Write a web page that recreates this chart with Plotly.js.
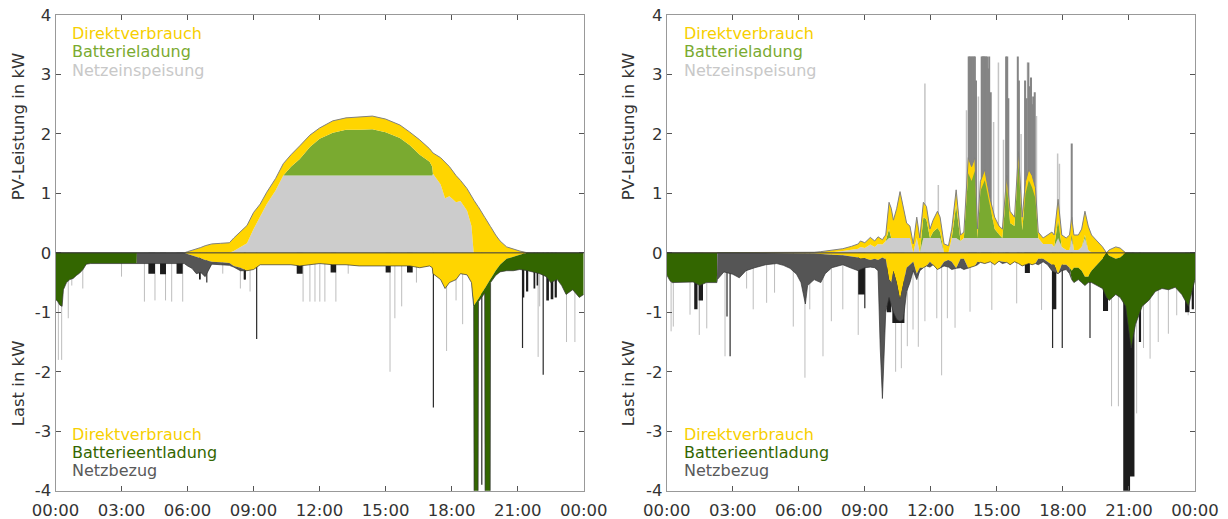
<!DOCTYPE html>
<html>
<head>
<meta charset="utf-8">
<script src="https://cdn.plot.ly/plotly-3.0.1.min.js"></script>
<style>html,body{margin:0;padding:0;background:#fff;}#chart{width:1228px;height:519px;}</style>
</head>
<body>
<div id="chart"></div>
<script>
// ---------- shared labels ----------
const hourTicks = [0, 3, 6, 9, 12, 15, 18, 21, 24];
const hourLabels = ['00:00', '03:00', '06:00', '09:00', '12:00', '15:00', '18:00', '21:00', '00:00'];
const kwTicks = [-4, -3, -2, -1, 0, 1, 2, 3, 4];
const kwLabels = ['-4', '-3', '-2', '-1', '0', '1', '2', '3', '4'];
const pvLegend = ['Direktverbrauch', 'Batterieladung', 'Netzeinspeisung'];
const loadLegend = ['Direktverbrauch', 'Batterieentladung', 'Netzbezug'];

// ---------- day 1 (left) : time in hours, power in kW ----------
const t1 = [0,0.1,0.2,0.3,0.36,0.5,0.65,0.8,0.95,1.1,1.25,1.4,1.6,3.69,3.7,5.85,6,6.2,6.4,6.6,6.8,6.95,7.1,7.5,7.9,8.1,8.4,8.7,9,9.3,9.6,10,10.35,10.7,11.1,11.56,12,12.6,13.2,13.8,14.4,15,15.65,16.1,16.55,17,17.12,17.15,17.5,17.7,17.9,18.2,18.4,18.7,18.9,19,19.02,19.2,19.22,19.5,19.52,19.75,19.77,20,20.2,20.5,20.8,21.1,21.45,21.7,22,22.3,22.5,22.8,23,23.2,23.5,23.8,24];
const direkt1 = [0,0,0,0,0,0,0,0,0,0,0,0,0,0,0,0,0.02,0.04,0.07,0.09,0.12,0.14,0.15,0.16,0.17,0.22,0.25,0.30,0.28,0.20,0.20,0.20,0.20,0.20,0.22,0.20,0.18,0.20,0.20,0.22,0.22,0.22,0.22,0.22,0.25,0.22,0.25,0.35,0.45,0.60,0.50,0.45,0.35,0.37,0.50,0.88,0.88,0.78,0.77,0.60,0.59,0.45,0.44,0.30,0.20,0.10,0.06,0.03,0,0,0,0,0,0,0,0,0,0,0];
const ladung1 = [0,0,0,0,0,0,0,0,0,0,0,0,0,0,0,0,0,0,0,0,0,0,0,0,0,0,0,0,0,0,0,0,0,0.15,0.28,0.48,0.62,0.72,0.77,0.77,0.78,0.73,0.63,0.51,0.35,0.23,0.15,0,0,0,0,0,0,0,0,0,0,0,0,0,0,0,0,0,0,0,0,0,0,0,0,0,0,0,0,0,0,0,0];
const einspeis1 = [0,0,0,0,0,0,0,0,0,0,0,0,0,0,0,0,0,0,0,0,0,0,0,0,0,0.03,0.10,0.16,0.40,0.62,0.82,1.05,1.30,1.30,1.30,1.30,1.30,1.30,1.30,1.30,1.30,1.30,1.30,1.30,1.30,1.30,1.30,1.33,1.15,0.92,0.95,0.85,0.87,0.71,0.45,0,0,0,0,0,0,0,0,0,0,0,0,0,0,0,0,0,0,0,0,0,0,0,0];
const entladung1 = [0.78,0.82,0.88,0.90,0.62,0.50,0.45,0.43,0.38,0.34,0.28,0.19,0.18,0.18,0,0,0,0,0,0,0,0,0,0,0,0,0,0,0,0,0,0,0,0,0,0,0,0,0,0,0,0,0,0,0,0,0,0,0,0,0,0,0,0,0,0.02,3.42,3.52,0.05,0.08,3.71,3.85,0.06,0.08,0.12,0.20,0.24,0.25,0.30,0.32,0.35,0.40,0.50,0.45,0.55,0.70,0.62,0.75,0.70];
const bezug1 = [0,0,0,0,0,0,0,0,0,0,0,0,0,0,0.18,0.18,0.20,0.22,0.28,0.24,0.28,0.16,0.04,0.04,0.04,0.02,0.05,0,0,0,0,0,0,0,0,0,0,0,0,0,0,0,0,0,0,0,0,0,0,0,0,0,0,0,0,0,0,0,0,0,0,0,0,0,0,0,0,0,0,0,0,0,0,0,0,0,0,0,0];
// short load pulses [start h, end h, depth kW]
const blocks1 = [[4.22,4.52,0.35],[4.75,5.02,0.36],[5.50,5.78,0.35],[6.52,6.60,0.45],[6.85,6.90,0.50],[8.55,8.65,0.45],[10.96,11.23,0.35],[12.50,12.75,0.33],[15.00,15.23,0.33],[15.97,16.23,0.33],[21.22,21.30,0.75],[21.38,21.48,0.65],[21.72,21.80,0.60],[21.86,21.93,0.55],[22.30,22.42,0.80],[22.50,22.62,0.78],[22.68,22.78,0.75]];
// one-sample load spikes [h, kW]
const loadSpikesLight1 = [[0.13,1.8],[0.28,1.8],[0.58,1.1],[0.74,0.55],[1.24,0.6],[3.0,0.4],[4.04,0.82],[4.52,0.8],[5.0,0.8],[5.28,0.82],[5.78,0.82],[7.6,0.35],[8.4,0.6],[8.84,0.65],[11.25,0.82],[11.56,0.82],[11.79,0.82],[12.01,0.82],[12.24,0.82],[12.74,0.82],[13.3,0.35],[15.2,2.0],[15.42,1.1],[15.73,0.9],[16.4,0.5],[17.77,1.65],[18.2,0.8],[18.5,1.2],[21.93,1.75],[22.0,0.9],[23.22,1.5],[23.6,1.5]];
const loadSpikesDark1 = [[8.6,0.45],[9.14,1.45],[17.17,2.6],[19.37,3.9],[21.22,1.6],[22.16,2.05]];
const pvSpikesLight1 = [];
const pvSpikesDark1 = [];

// ---------- day 2 (right) ----------
const t2 = [0,0.15,0.25,1.2,1.5,1.8,2.28,2.3,2.6,3,3.3,3.6,4,4.5,5,5.3,5.6,5.9,6.1,6.3,6.4,6.7,7,7.2,7.5,8,8.4,8.7,8.8,9,9.25,9.45,9.6,9.7,9.8,9.9,9.95,10.1,10.2,10.3,10.45,10.6,10.75,10.9,11.05,11.2,11.36,11.5,11.66,11.8,11.96,12.1,12.3,12.42,12.6,12.8,12.95,13.15,13.35,13.5,13.7,13.85,14,14.12,14.25,14.45,14.7,14.9,15.1,15.25,15.45,15.6,15.8,15.98,16.15,16.3,16.45,16.6,16.75,16.88,17.1,17.3,17.5,17.6,17.78,17.95,18.15,18.3,18.4,18.5,18.7,18.85,19,19.15,19.3,19.55,19.8,19.98,20.1,20.4,20.6,20.85,21.1,21.3,21.6,21.9,22.2,22.5,22.8,23.1,23.4,23.7,24];
const direkt2 = [0,0,0,0,0,0,0,0,0,0, 0,0,0,0,0,0,0,0,0,0, 0,0.01,0.02,0.02,0.03,0.04,0.06,0.08,0.10,0.09, 0.12,0.10,0.12,0.10,0.08,0.10,0.10,0.45,0.50,0.30, 0.50,0.78,0.50,0.25,0.20,0.15,0.35,0.25,0.25,0.22, 0.15,0.20,0.28,0.25,0.15,0.12,0.15,0.26,0.10,0.10, 0.26,0.24,0.22,0.15,0.16,0.18,0.15,0.20,0.14,0.15, 0.16,0.20,0.15,0.18,0.22,0.20,0.18,0.20,0.18,0.10, 0.10,0.15,0.20,0.20,0.35,0.20,0.20,0.25,0.30,0.25, 0.25,0.30,0.40,0.40,0.30,0.20,0.10,0,0.05,0.10, 0.08,0,0,0,0,0,0,0,0,0, 0,0,0];
const ladung2 = [0,0,0,0,0,0,0,0,0,0, 0,0,0,0,0,0,0,0,0,0, 0,0,0,0,0,0,0,0,0,0, 0,0,0,0,0,0,0,0.15,0,0, 0,0,0,0,0,0,0,0,0.35,0.31, 0,0.10,0.17,0.10,0,0,0,0.55,0,0, 1.09,0.96,1.13,0,0.79,0.97,0.50,0.15,0.06,0, 0.89,0.25,0.20,1.27,0.13,0.75,0.97,0.85,0.67,0, 0,0,0,0,0.30,0,0,0,0.05,0, 0,0,0.05,0,0,0,0,0,0,0, 0,0,0,0,0,0,0,0,0,0, 0,0,0];
const einspeis2 = [0,0,0,0,0,0,0,0,0,0, 0,0,0,0,0,0,0,0,0,0, 0,0,0,0.01,0.01,0.03,0.05,0.07,0.10,0.08, 0.14,0.10,0.15,0.14,0.14,0.18,0.20,0.25,0.25,0.25, 0.25,0.25,0.25,0.25,0.25,0,0.25,0,0.25,0.25, 0.25,0.25,0.25,0.25,0,0,0.25,0.25,0.20,0.25, 0.25,0.25,0.25,0.25,0.25,0.25,0.25,0.25,0.25,0.25, 0.25,0.25,0.25,0.25,0.25,0.25,0.25,0.25,0.25,0.25, 0.15,0.15,0.15,0.10,0.25,0.10,0.05,0.05,0.25,0.05, 0.05,0.10,0.25,0.05,0,0,0,0,0,0, 0,0,0,0,0,0,0,0,0,0, 0,0,0];
const entladung2 = [0.37,0.47,0.50,0.49,0.55,0.50,0.50,0,0,0, 0,0,0,0,0,0,0,0,0,0, 0,0,0,0,0,0,0,0,0,0, 0,0,0,0,0,0,0,0,0,0, 0,0,0,0,0,0,0,0,0,0, 0,0,0,0,0,0,0,0,0,0, 0,0,0,0,0,0,0,0,0,0, 0,0,0,0,0,0,0,0,0,0, 0,0,0,0,0,0,0,0,0.15,0.25, 0.20,0.20,0.15,0.10,0.20,0.35,0.50,0.75,0.75,0.60, 0.67,0.90,1.60,1.20,0.90,0.80,0.65,0.60,0.62,0.58, 0.70,0.90,0.45];
const bezug2 = [0,0,0,0,0,0,0,0.45,0.32,0.36, 0.42,0.30,0.25,0.20,0.18,0.21,0.26,0.36,0.50,0.86, 0.55,0.44,0.48,0.33,0.22,0.16,0.20,0.22,0.18,0.16, 0.12,0.15,0.18,1.50,2.37,1.40,0.90,0.30,0.40,0.70, 0.62,0.37,0.62,0.40,0.30,0.15,0.10,0.05,0,0, 0.09,0,0,0,0.07,0.12,0.13,0,0.15,0.18, 0,0,0,0.05,0,0,0,0,0,0.03, 0,0,0,0,0,0,0,0,0,0.10, 0.05,0.05,0.10,0.12,0,0.10,0.08,0.10,0,0, 0,0,0,0,0,0,0,0,0,0, 0,0,0,0,0,0,0,0,0,0, 0,0,0];
const blocks2 = [[1.25,1.40,0.95],[1.45,1.65,0.80],[8.70,9.00,0.70],[10.00,10.20,1.00],[10.25,10.80,1.18],[16.27,16.50,0.34],[17.50,17.70,0.95],[19.82,20.05,0.98],[20.74,21.05,4.30],[21.05,21.25,3.76],[21.45,21.55,1.50],[23.55,23.75,1.00],[23.85,23.95,0.95]];
const loadSpikesLight2 = [[0.2,1.32],[0.3,1.24],[1.06,1.04],[1.48,1.38],[1.82,1.27],[2.65,1.74],[3.63,0.6],[3.93,0.95],[4.54,0.84],[4.9,0.67],[5.75,1.24],[6.28,2.1],[6.5,0.95],[7.1,1.74],[7.48,1.15],[8.0,0.95],[8.7,1.38],[10.4,2.0],[10.66,1.94],[10.93,1.57],[11.19,1.29],[11.43,1.58],[11.73,1.15],[12.27,1.1],[12.49,2.06],[12.75,1.1],[13.1,1.26],[13.78,0.99],[14.77,0.96],[15.9,0.85],[17.03,0.96],[20.21,2.58],[20.52,2.58],[21.35,2.7],[21.66,1.6],[21.96,1.78],[22.33,1.5],[22.79,1.36],[23.17,1.05],[23.69,1.05]];
const loadSpikesDark2 = [[2.74,1.07],[2.88,1.74],[9.0,0.93],[17.53,1.6],[17.97,1.6],[19.23,1.43],[21.17,3.7]];
const pvSpikesLight2 = [[11.73,2.85],[12.34,1.14],[13.62,2.4],[14.16,2.63],[14.85,2.2],[15.07,3.2],[15.3,1.9],[16.1,2.0],[16.39,3.2],[16.8,2.3],[17.76,1.67],[17.84,1.5]];
const pvSpikesDark2 = [[13.72,3.3],[13.76,3.3],[13.8,3.3],[13.86,3.3],[13.9,3.3],[13.96,3.3],[14.0,3.3],[14.05,2.9],[14.31,3.3],[14.35,3.3],[14.38,3.3],[14.42,3.3],[14.45,3.3],[14.5,3.3],[14.55,3.3],[14.6,3.1],[14.65,3.3],[14.72,2.7],[15.42,3.3],[15.47,3.3],[15.52,2.6],[15.95,3.3],[16.0,2.9],[16.28,2.9],[16.35,2.6],[16.43,3.2],[16.5,2.8],[16.55,2.95],[16.6,2.5],[16.65,2.63],[16.72,2.7],[18.4,1.84]];

// ---------- colours ----------
const C = {
  direkt: '#FFD500', ladung: '#7AAA30', einspeis: '#CCCCCC',
  entladung: '#336600', bezug: '#555555', pulse: '#1C1C1C',
  pvLine: '#808080', loadLine: '#333333'
};
const FONT = 'DejaVu Sans, Verdana, sans-serif';

function add(a, b) { return a.map((v, i) => v + b[i]); }
function neg(a) { return a.map(v => -v); }

function spikes(list, sign, color, width, xa, ya) {
  const x = [], y = [];
  list.forEach(([t, v]) => { x.push(t, t, null); y.push(0, sign * v, null); });
  return { type: 'scatter', mode: 'lines', x, y, xaxis: xa, yaxis: ya, line: { color, width }, hoverinfo: 'skip' };
}
function pulses(list, xa, ya) {
  const x = [], y = [];
  list.forEach(([s, e, d]) => { x.push(s, e, e, s, s, null); y.push(0, 0, -d, -d, 0, null); });
  return { type: 'scatter', mode: 'lines', x, y, xaxis: xa, yaxis: ya, fill: 'toself', fillcolor: C.pulse, line: { width: 0, color: C.pulse }, hoverinfo: 'skip' };
}
function area(t, y, fill, color, xa, ya, lineColor, lineWidth) {
  return { type: 'scatter', mode: 'lines', x: t, y, xaxis: xa, yaxis: ya, fill, fillcolor: color,
    line: { width: lineWidth || 0, color: lineColor || color }, hoverinfo: 'skip' };
}

function panel(t, d, bl, ne, be, nb, blocks, lsL, lsD, psL, psD, xa, ya) {
  const up1 = ne, up2 = add(ne, bl), up3 = add(up2, d);
  const lo1 = neg(d), lo2 = neg(add(d, be)), lo3 = neg(add(add(d, be), nb));
  return [
    spikes(psL, 1, '#c4c4c4', 1.5, xa, ya),
    spikes(psD, 1, '#858585', 2, xa, ya),
    spikes(lsL, -1, '#bdbdbd', 1, xa, ya),
    spikes(lsD, -1, '#2a2a2a', 1.2, xa, ya),
    pulses(blocks, xa, ya),
    area(t, up1, 'tozeroy', C.einspeis, xa, ya),
    area(t, up2, 'tonexty', C.ladung, xa, ya),
    area(t, up3, 'tonexty', C.direkt, xa, ya, C.pvLine, 1),
    area(t, lo1, 'tozeroy', C.direkt, xa, ya),
    area(t, lo2, 'tonexty', C.entladung, xa, ya),
    area(t, lo3, 'tonexty', C.bezug, xa, ya, C.loadLine, 0.7)
  ];
}

const data = [].concat(
  panel(t1, direkt1, ladung1, einspeis1, entladung1, bezug1, blocks1, loadSpikesLight1, loadSpikesDark1, pvSpikesLight1, pvSpikesDark1, 'x', 'y'),
  panel(t2, direkt2, ladung2, einspeis2, entladung2, bezug2, blocks2, loadSpikesLight2, loadSpikesDark2, pvSpikesLight2, pvSpikesDark2, 'x2', 'y2')
);

const W = 1228, H = 519;
const px = v => v / W, py = v => 1 - v / H;
const yDom = [py(490.7), py(15)];

function xAxis(dom, anchor) {
  return { domain: dom, anchor, range: [0, 24], tickvals: hourTicks, ticktext: hourLabels,
    ticks: 'inside', ticklen: 5, tickwidth: 1, tickcolor: '#555', showline: true, linecolor: '#999', linewidth: 1,
    mirror: 'ticks', showgrid: false, zeroline: false, fixedrange: true, ticklabelstandoff: 4,
    tickfont: { family: FONT, size: 16.5, color: '#333' } };
}
function yAxis(anchor) {
  return { domain: yDom, anchor, range: [-4, 4], tickvals: kwTicks, ticktext: kwLabels,
    ticks: 'inside', ticklen: 5, tickwidth: 1, tickcolor: '#555', showline: true, linecolor: '#999', linewidth: 1,
    mirror: 'ticks', showgrid: false, zeroline: false, fixedrange: true,
    tickfont: { family: FONT, size: 16.5, color: '#333' } };
}

const annotations = [];
function legendBlock(x0, texts, colors, ys) {
  texts.forEach((txt, i) => annotations.push({ xref: 'paper', yref: 'paper', x: px(x0), y: py(ys[i]),
    xanchor: 'left', yanchor: 'middle', showarrow: false, text: txt,
    font: { family: FONT, size: 16, color: colors[i] } }));
}
[70, 681.7].forEach(x0 => {
  legendBlock(x0, pvLegend, ['#F7CF00', '#7AAA30', '#C8C8C8'], [33.3, 51.7, 70]);
  legendBlock(x0, loadLegend, ['#F7CF00', '#336600', '#595959'], [434.3, 452.3, 470]);
});
[18.3, 628.3].forEach(xc => {
  annotations.push({ xref: 'paper', yref: 'paper', x: px(xc), y: py(126), textangle: -90, showarrow: false,
    xanchor: 'center', yanchor: 'middle', text: 'PV-Leistung in kW', font: { family: FONT, size: 16.5, color: '#333' } });
  annotations.push({ xref: 'paper', yref: 'paper', x: px(xc), y: py(383), textangle: -90, showarrow: false,
    xanchor: 'center', yanchor: 'middle', text: 'Last in kW', font: { family: FONT, size: 16.5, color: '#333' } });
});

const layout = {
  width: W, height: H, margin: { l: 0, r: 0, t: 0, b: 0 },
  paper_bgcolor: '#fff', plot_bgcolor: '#fff', showlegend: false,
  xaxis: xAxis([px(55.5), px(583.7)], 'y'),
  yaxis: yAxis('x'),
  xaxis2: xAxis([px(666.7), px(1195)], 'y2'),
  yaxis2: yAxis('x2'),
  annotations,
  shapes: [
    { type: 'line', xref: 'x', yref: 'y', x0: 0, x1: 24, y0: 0, y1: 0, line: { color: '#333', width: 1 }, layer: 'above' },
    { type: 'line', xref: 'x2', yref: 'y2', x0: 0, x1: 24, y0: 0, y1: 0, line: { color: '#333', width: 1 }, layer: 'above' }
  ]
};

Plotly.newPlot('chart', data, layout, { staticPlot: true, displayModeBar: false });
</script>
</body>
</html>
